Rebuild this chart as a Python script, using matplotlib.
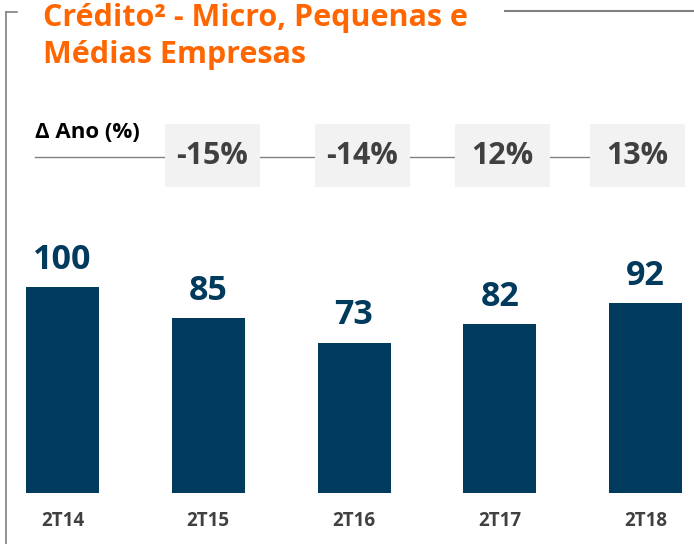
import matplotlib
matplotlib.use('Agg')
import matplotlib.pyplot as plt
from matplotlib.patches import Rectangle

# data
categories = ['2T14', '2T15', '2T16', '2T17', '2T18']
values = [100, 85, 73, 82, 92]
yoy_labels = ['-15%', '-14%', '12%', '13%']

W, H = 694, 544
ORANGE = '#FF6600'
NAVY = '#003A5C'
DARK = '#404040'
LINE = '#808080'
BOX = '#F2F2F2'

plt.rcParams['font.family'] = ['Open Sans', 'DejaVu Sans']

fig = plt.figure(figsize=(W / 100, H / 100), dpi=100)
fig.patch.set_facecolor('white')


def fx(x):
    return x / W


def fy(y):
    return 1 - y / H


# frame lines
fig.add_artist(plt.Line2D([fx(6), fx(6)], [fy(12), fy(544)], color=LINE, lw=1.2))
fig.add_artist(plt.Line2D([fx(6), fx(17)], [fy(12), fy(12)], color=LINE, lw=1.2))
fig.add_artist(plt.Line2D([fx(505), fx(694)], [fy(11), fy(11)], color=LINE, lw=1.5))

# title
fig.text(fx(43), fy(18), 'Crédito² - Micro, Pequenas e', color=ORANGE,
         fontsize=22, fontweight='bold', va='center', ha='left')
fig.text(fx(43), fy(55), 'Médias Empresas', color=ORANGE,
         fontsize=22, fontweight='bold', va='center', ha='left')

# year-over-year row
fig.text(fx(35), fy(133), 'Δ Ano (%)', color='black', fontsize=16,
         fontweight='bold', va='center', ha='left')
fig.add_artist(plt.Line2D([fx(35), fx(600)], [fy(157), fy(157)], color=LINE,
                          lw=1, zorder=0.5))
box_x = [165, 315, 455, 590]
for bx, lab in zip(box_x, yoy_labels):
    fig.add_artist(Rectangle((fx(bx), fy(187)), fx(95), 63 / H,
                             facecolor=BOX, edgecolor='none', zorder=1))
    fig.text(fx(bx + 47.5), fy(156), lab, color=DARK, fontsize=22,
             fontweight='bold', va='center', ha='center', zorder=2)

# bars
ax = fig.add_axes([0, 0, 1, 1])
ax.set_facecolor('none')
step = 145.75
scale = 2.06
x = list(range(len(categories)))
ax.bar(x, values, width=73 / step, color=NAVY)
ax.set_xlim(-62.5 / step, (W - 62.5) / step)
ax.set_ylim(-(H - 493) / scale, 493 / scale)
ax.axis('off')

for i, v in enumerate(values):
    ax.text(i, v + 5, str(v), color=NAVY, fontsize=24.5, fontweight='bold',
            ha='center', va='bottom')
    ax.text(i, -(521 - 493) / scale, categories[i], color=DARK, fontsize=13.5,
            fontweight='bold', ha='center', va='center')

fig.savefig('out.png', dpi=100)
